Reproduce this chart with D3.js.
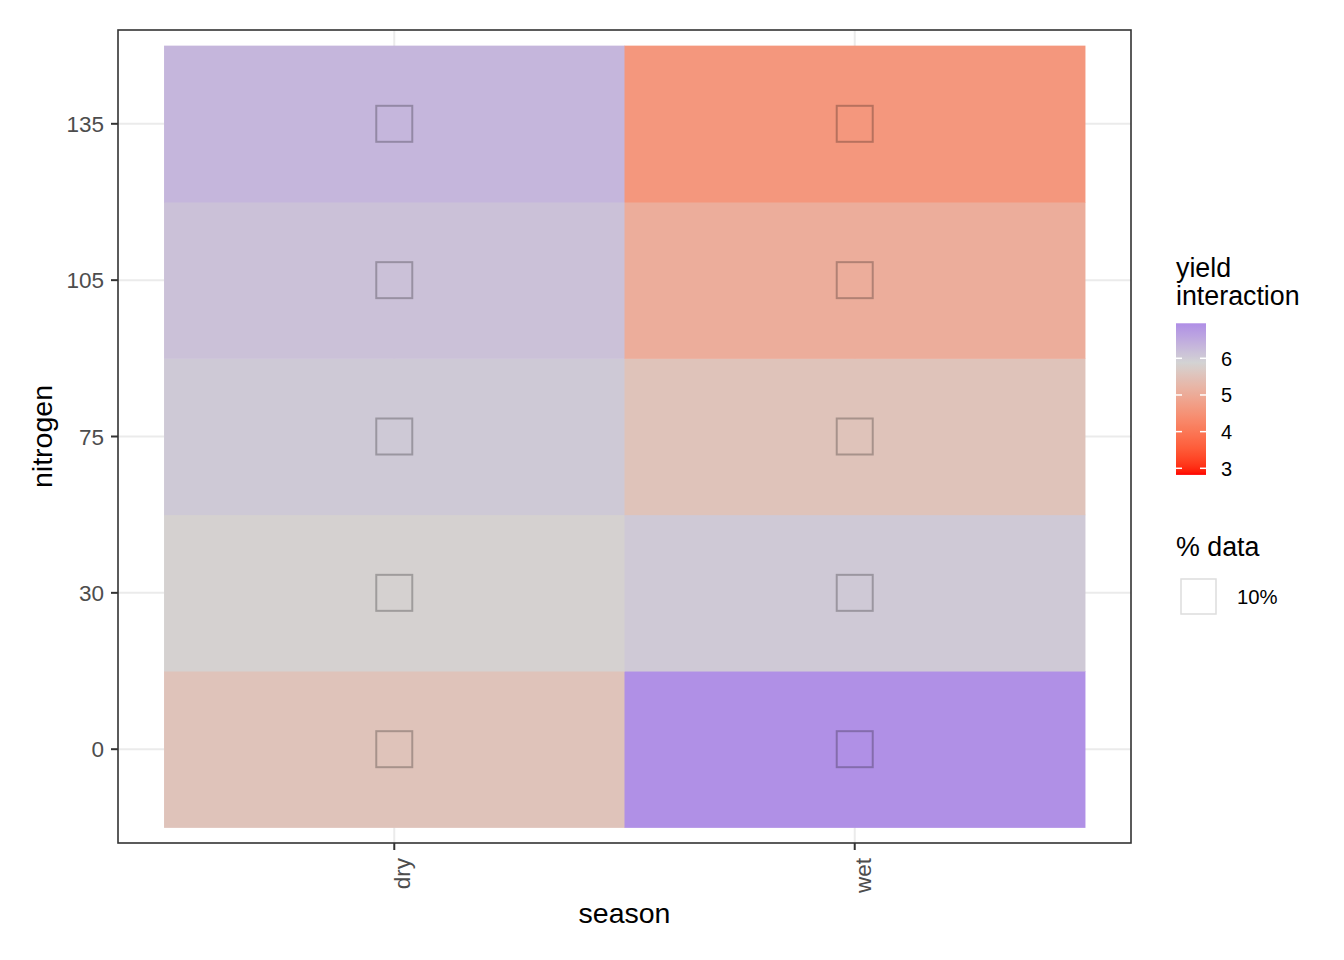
<!DOCTYPE html>
<html><head><meta charset="utf-8">
<script src="https://cdn.jsdelivr.net/npm/d3@7"></script>
<style>
body{margin:0;background:#fff;}
text{font-family:"Liberation Sans",Arial,Helvetica,sans-serif;}
</style></head>
<body><svg id="c" width="1344" height="960"></svg>
<script>
const seasons = ["dry","wet"];
const nitrogenLevels = ["0","30","75","105","135"];
const dryValues = [5.52, 5.84, 6.04, 6.16, 6.33];
const wetValues = [6.93, 6.03, 5.52, 5.05, 4.6];
const pctData = 10;
const legendTicks = [3,4,5,6];
const legendLimits = [2.82, 6.955];
const legendMid = 5.88;
const colorStops = ["#FF0000", "#D3D3D3", "#AF8EE6"];

const cells = [];
nitrogenLevels.forEach((n,i)=>{
  cells.push({season:"dry", nitrogen:n, value:dryValues[i]});
  cells.push({season:"wet", nitrogen:n, value:wetValues[i]});
});

const svg = d3.select("#c");
const P = {l:118, r:1131, t:30, b:843};

const x = d3.scaleBand().domain(seasons).range([P.l, P.r]).paddingInner(0).paddingOuter(0.1);
const y = d3.scaleBand().domain(nitrogenLevels).range([P.b, P.t]).paddingInner(0).paddingOuter(0.1);
const color = d3.scaleLinear().domain([legendLimits[0], legendMid, legendLimits[1]])
  .range(colorStops).interpolate(d3.interpolateLab);

// grid
const g = svg.append("g");
g.selectAll(".gx").data(seasons).enter().append("line")
  .attr("x1",d=>x(d)+x.bandwidth()/2).attr("x2",d=>x(d)+x.bandwidth()/2)
  .attr("y1",P.t).attr("y2",P.b).attr("stroke","#EBEBEB").attr("stroke-width",2);
g.selectAll(".gy").data(nitrogenLevels).enter().append("line")
  .attr("y1",d=>y(d)+y.bandwidth()/2).attr("y2",d=>y(d)+y.bandwidth()/2)
  .attr("x1",P.l).attr("x2",P.r).attr("stroke","#EBEBEB").attr("stroke-width",2);

// tiles
g.selectAll(".tile").data(cells).enter().append("rect")
  .attr("x",d=>x(d.season)).attr("y",d=>y(d.nitrogen))
  .attr("width",x.bandwidth()+0.5).attr("height",y.bandwidth()+0.5)
  .attr("fill",d=>color(d.value));

// squares
const sq = 36;
g.selectAll(".sq").data(cells).enter().append("rect")
  .attr("x",d=>x(d.season)+x.bandwidth()/2-sq/2).attr("y",d=>y(d.nitrogen)+y.bandwidth()/2-sq/2)
  .attr("width",sq).attr("height",sq).attr("fill","none")
  .attr("stroke","rgba(0,0,0,0.25)").attr("stroke-width",2);

// border
svg.append("rect").attr("x",P.l).attr("y",P.t).attr("width",P.r-P.l).attr("height",P.b-P.t)
  .attr("fill","none").attr("stroke","#333333").attr("stroke-width",1.6);

// axes
const yAxis = svg.append("g").attr("transform",`translate(${P.l},0)`)
  .call(d3.axisLeft(y).tickSize(7).tickPadding(7));
const xAxis = svg.append("g").attr("transform",`translate(0,${P.b})`)
  .call(d3.axisBottom(x).tickSize(7).tickPadding(5));
[yAxis,xAxis].forEach(a=>{
  a.select(".domain").remove();
  a.selectAll(".tick line").attr("stroke","#333333").attr("stroke-width",2);
  a.selectAll(".tick text").attr("fill","#4D4D4D").style("font-size","22.5px").attr("font-family",null);
});
yAxis.selectAll(".tick text").attr("dy","0.36em");
xAxis.selectAll(".tick text").attr("transform","rotate(-90)").attr("text-anchor","end")
  .attr("x",-15).attr("y",0).attr("dy","0.72em");

svg.append("text").attr("x",(P.l+P.r)/2).attr("y",923).attr("text-anchor","middle")
  .style("font-size","28.5px").attr("fill","#000").text("season");
svg.append("text").attr("transform",`translate(52,${(P.t+P.b)/2}) rotate(-90)`).attr("text-anchor","middle")
  .style("font-size","28.5px").attr("fill","#000").text("nitrogen");

// legend: colorbar
const L = svg.append("g");
L.append("text").attr("x",1176).attr("y",277).style("font-size","26.8px").text("yield");
L.append("text").attr("x",1176).attr("y",305).style("font-size","26.8px").text("interaction");
const by = d3.scaleLinear().domain([3,6]).range([468.3,358.3]);
const barTop = by(legendLimits[1]), barBot = by(legendLimits[0]);
const defs = svg.append("defs");
const grad = defs.append("linearGradient").attr("id","cb").attr("x1",0).attr("x2",0).attr("y1",1).attr("y2",0);
d3.range(0,1.0001,0.02).forEach(t=>{
  grad.append("stop").attr("offset",t).attr("stop-color",color(legendLimits[0]+t*(legendLimits[1]-legendLimits[0])));
});
const bx0 = 1176, bw = 30;
L.append("rect").attr("x",bx0).attr("y",barTop).attr("width",bw).attr("height",barBot-barTop).attr("fill","url(#cb)");
legendTicks.forEach(v=>{
  L.append("line").attr("x1",bx0).attr("x2",bx0+6).attr("y1",by(v)).attr("y2",by(v)).attr("stroke","#fff").attr("stroke-width",1.5);
  L.append("line").attr("x1",bx0+bw-6).attr("x2",bx0+bw).attr("y1",by(v)).attr("y2",by(v)).attr("stroke","#fff").attr("stroke-width",1.5);
  L.append("text").attr("x",1221).attr("y",by(v)).attr("dy","0.36em").style("font-size","20px").text(v);
});

// legend: % data
L.append("text").attr("x",1176).attr("y",556).style("font-size","26.8px").text("% data");
L.append("rect").attr("x",1181).attr("y",579).attr("width",35).attr("height",35)
  .attr("fill","#fff").attr("stroke","#DDDDDD").attr("stroke-width",1.5);
L.append("text").attr("x",1237).attr("y",597).attr("dy","0.36em").style("font-size","20.3px").text(pctData+"%");
</script></body></html>
